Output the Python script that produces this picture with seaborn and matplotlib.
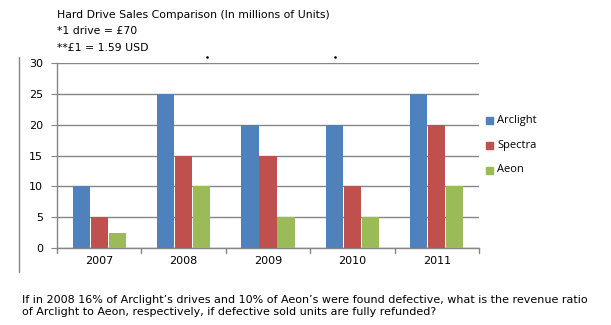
import matplotlib
matplotlib.use("Agg")
import matplotlib.pyplot as plt
import seaborn as sns
import pandas as pd
from matplotlib.lines import Line2D
from matplotlib.patches import Rectangle

years = ["2007", "2008", "2009", "2010", "2011"]
arclight = [10, 25, 20, 20, 25]
spectra = [5, 15, 15, 10, 20]
aeon = [2.5, 10, 5, 5, 10]
series_names = ["Arclight", "Spectra", "Aeon"]
colors = ["#4F81BD", "#C0504D", "#9BBB59"]
title_lines = ["Hard Drive Sales Comparison (In millions of Units)",
               "*1 drive = \u00a370",
               "**\u00a31 = 1.59 USD"]
question = ("If in 2008 16% of Arclight\u2019s drives and 10% of Aeon\u2019s were found defective, what is the revenue ratio\n"
            "of Arclight to Aeon, respectively, if defective sold units are fully refunded?")

rows = []
for name, vals in zip(series_names, [arclight, spectra, aeon]):
    for y, v in zip(years, vals):
        rows.append({"Year": y, "Company": name, "Units": v})
df = pd.DataFrame(rows)

sns.set_style("white")
plt.rcParams["font.family"] = ["DejaVu Sans"]
plt.rcParams["text.color"] = "black"
plt.rcParams["xtick.color"] = "black"
plt.rcParams["ytick.color"] = "black"

fig = plt.figure(figsize=(6.11, 3.25), dpi=100)
ax = fig.add_axes([57/611, 1-248/325, 422/611, 185/325])

sns.barplot(data=df, x="Year", y="Units", hue="Company", palette=colors,
            width=0.64, gap=0.04, ax=ax, legend=False, saturation=1,
            edgecolor="none", linewidth=0, zorder=3)

ax.set_ylim(0, 30)
ax.set_xlim(-0.5, 4.5)
ax.set_yticks([0, 5, 10, 15, 20, 25, 30])
ax.set_yticklabels([str(t) for t in [0, 5, 10, 15, 20, 25, 30]], fontsize=8)
ax.set_xlabel("")
ax.set_ylabel("")
ax.yaxis.grid(True, color="#868686", linewidth=1)
ax.set_axisbelow(True)
for s in ["top", "right"]:
    ax.spines[s].set_visible(False)
for s in ["left", "bottom"]:
    ax.spines[s].set_color("#868686")
    ax.spines[s].set_linewidth(1)

ax.set_xticks([0, 1, 2, 3, 4])
ax.set_xticklabels(years, fontsize=8)
ax.tick_params(axis="x", length=0, pad=6, labelcolor="black")
ax.tick_params(axis="y", length=4, color="#868686", direction="out", pad=6,
               left=True, labelcolor="black")
for b in [-0.5, 0.5, 1.5, 2.5, 3.5, 4.5]:
    ax.plot([b, b], [0, -0.8], color="#868686", lw=1, clip_on=False)

# title text
for i, t in enumerate(title_lines):
    fig.text(57/611, 1-(15 + i*16.5)/325, t, fontsize=7.8, va="center", ha="left",
             color="black")

# small stray marks above the plot
for xd in [207, 335]:
    fig.add_artist(Line2D([xd/611], [1-57/325], transform=fig.transFigure,
                          marker="s", markersize=0.8, color="black", lw=0))

# legend
for i, (name, c) in enumerate(zip(series_names, colors)):
    yc = 1 - (121 + i*24.5)/325
    fig.patches.append(Rectangle((486/611, yc-3.5/325), 7/611, 7/325,
                                 transform=fig.transFigure, color=c))
    fig.text(497/611, yc, name, fontsize=8, va="center", ha="left",
             family=["Open Sans", "DejaVu Sans"], color="black")

# left border line
fig.add_artist(Line2D([19/611, 19/611], [1-57/325, 1-272/325],
                      transform=fig.transFigure, color="#868686", lw=1))

fig.text(22/611, 1-306/325, question, fontsize=8, va="center", ha="left",
         linespacing=1.35, color="black")

fig.savefig("out.png", dpi=100)
